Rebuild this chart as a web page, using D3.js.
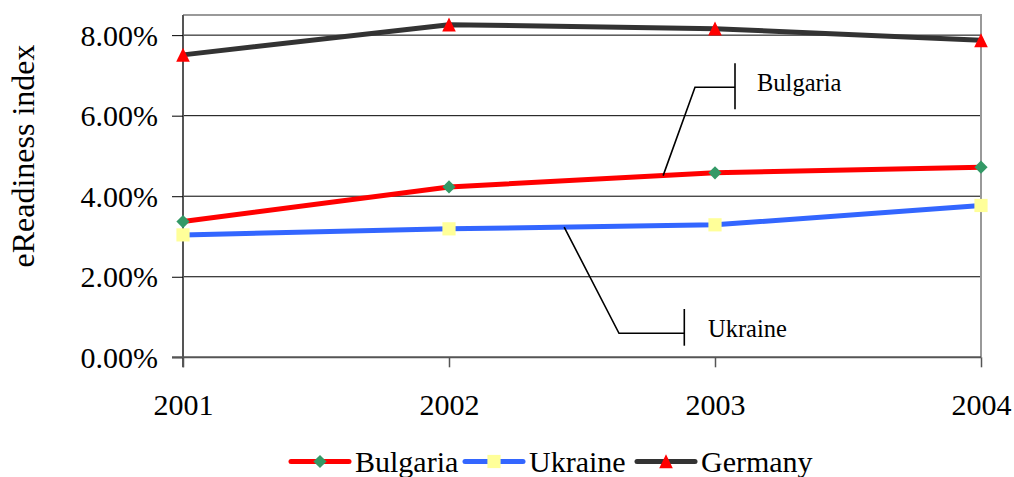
<!DOCTYPE html>
<html>
<head>
<meta charset="utf-8">
<script src="https://cdn.jsdelivr.net/npm/d3@7"></script>
<style>
  html, body { margin: 0; padding: 0; background: #fff; }
  svg, svg text { font-family: "Liberation Serif", "Times New Roman", Times, serif; }
</style>
</head>
<body>
<svg id="chart" width="1014" height="477"></svg>
<script>
// eReadiness index by year (percent)
const years = ["2001", "2002", "2003", "2004"];
const bulgaria = [3.37, 4.23, 4.58, 4.72];
const ukraine = [3.04, 3.19, 3.29, 3.77];
const germany = [7.51, 8.26, 8.16, 7.87];
const yTicks = [0, 2, 4, 6, 8];
const seriesNames = ["Bulgaria", "Ukraine", "Germany"];

const series = [
  { name: seriesNames[0], values: bulgaria, line: "#ff0000", marker: "#339966", shape: "diamond" },
  { name: seriesNames[1], values: ukraine, line: "#3366ff", marker: "#ffff99", shape: "square" },
  { name: seriesNames[2], values: germany, line: "#333333", marker: "#ff0000", shape: "triangle" }
];

const SERIF = '"Liberation Serif", "Times New Roman", Times, serif';
const svg = d3.select("#chart");
const plot = { left: 183, right: 981, top: 15, bottom: 357.3 };

const x = d3.scalePoint().domain(years).range([plot.left, plot.right]);
const y = d3.scaleLinear().domain([0, 8.5]).range([plot.bottom, plot.top]);

const shapes = {
  diamond: "M0,-6.6L6.6,0L0,6.6L-6.6,0Z",
  square: "M-6.6,-6.6H6.6V6.6H-6.6Z",
  triangle: "M0,-7.2L6.8,6.8L-6.8,6.8Z"
};

// Horizontal gridlines
svg.append("g")
  .selectAll("line")
  .data(yTicks.filter(d => d > 0))
  .join("line")
  .attr("x1", plot.left).attr("x2", plot.right)
  .attr("y1", d => y(d)).attr("y2", d => y(d))
  .attr("stroke", "#000").attr("stroke-width", 1);

// Plot frame (top and right)
svg.append("path")
  .attr("d", `M${plot.left},${plot.top}H${plot.right}V${plot.bottom}`)
  .attr("fill", "none").attr("stroke", "#999").attr("stroke-width", 2);

// Y axis
const yAxis = svg.append("g")
  .attr("transform", `translate(${plot.left},0)`)
  .call(d3.axisLeft(y).tickValues(yTicks).tickSize(11).tickPadding(14)
    .tickFormat(d => d.toFixed(2) + "%"));
yAxis.attr("font-family", null).attr("font-size", null);
yAxis.select(".domain").attr("stroke", "#555").attr("stroke-width", 2)
  .attr("d", `M0,${plot.top}V${plot.bottom + 10}`);
yAxis.selectAll(".tick line").attr("stroke", "#000");
yAxis.selectAll(".tick text")
  .style("font-family", SERIF)
  .style("font-size", "30px").attr("fill", "#000").attr("dy", "0.33em");

// X axis
const xAxis = svg.append("g")
  .attr("transform", `translate(0,${plot.bottom})`)
  .call(d3.axisBottom(x).tickSize(10).tickPadding(26));
xAxis.attr("font-family", null).attr("font-size", null);
xAxis.select(".domain").attr("stroke", "#555").attr("stroke-width", 2)
  .attr("d", `M${plot.left - 11},0H${plot.right}`);
xAxis.selectAll(".tick line").attr("stroke", "#555").attr("stroke-width", 1.5);
xAxis.selectAll(".tick text")
  .style("font-family", SERIF)
  .style("font-size", "30px").attr("fill", "#000").attr("dy", "0.72em");

// Axis title
svg.append("text")
  .attr("transform", "translate(34,156) rotate(-90)")
  .attr("text-anchor", "middle")
  .style("font-family", SERIF)
  .style("font-size", "32px")
  .text("eReadiness index");

// Series lines
const line = d3.line().x((d, i) => x(years[i])).y(d => y(d));
svg.append("g")
  .selectAll("path")
  .data(series)
  .join("path")
  .attr("d", d => line(d.values))
  .attr("fill", "none")
  .attr("stroke", d => d.line)
  .attr("stroke-width", 5)
  .attr("stroke-linejoin", "round");

// Callouts: a point partway along a series segment, an elbow, and a bar beside the label
function along(values, seg, t) {
  const x0 = x(years[seg]), x1 = x(years[seg + 1]);
  return [x0 + (x1 - x0) * t, y(values[seg] + (values[seg + 1] - values[seg]) * t)];
}
const callouts = [
  { text: seriesNames[0], from: along(bulgaria, 1, 0.805), elbow: [695, 87.3], bar: [735, 63.3, 109.3], label: [757, 91] },
  { text: seriesNames[1], from: along(ukraine, 1, 0.433), elbow: [619, 333.3], bar: [684.3, 309, 345.7], label: [708, 337] }
];
const cg = svg.append("g");
callouts.forEach(c => {
  cg.append("path")
    .attr("d", `M${c.from[0]},${c.from[1]}L${c.elbow[0]},${c.elbow[1]}H${c.bar[0]}`)
    .attr("fill", "none").attr("stroke", "#000").attr("stroke-width", 1.6);
  cg.append("line")
    .attr("x1", c.bar[0]).attr("x2", c.bar[0])
    .attr("y1", c.bar[1]).attr("y2", c.bar[2])
    .attr("stroke", "#000").attr("stroke-width", 1.6);
  cg.append("text")
    .attr("x", c.label[0]).attr("y", c.label[1])
    .style("font-family", SERIF)
    .style("font-size", "24.5px")
    .text(c.text);
});

// Markers
series.forEach(s => {
  svg.append("g")
    .selectAll("path")
    .data(s.values)
    .join("path")
    .attr("transform", (d, i) => `translate(${x(years[i])},${y(d)})`)
    .attr("d", shapes[s.shape])
    .attr("fill", s.marker);
});

// Legend
const legendItems = [
  { s: series[0], x0: 291, text: 355 },
  { s: series[1], x0: 465, text: 529 },
  { s: series[2], x0: 637, text: 701 }
];
const lg = svg.append("g");
legendItems.forEach(it => {
  lg.append("line")
    .attr("x1", it.x0).attr("x2", it.x0 + 58)
    .attr("y1", 461.5).attr("y2", 461.5)
    .attr("stroke", it.s.line).attr("stroke-width", 5)
    .attr("stroke-linecap", "round");
  lg.append("path")
    .attr("transform", `translate(${it.x0 + 29},461.5)`)
    .attr("d", shapes[it.s.shape])
    .attr("fill", it.s.marker);
  lg.append("text")
    .attr("x", it.text).attr("y", 471.7)
    .style("font-family", SERIF)
    .style("font-size", "30px")
    .text(it.s.name);
});
</script>
</body>
</html>
